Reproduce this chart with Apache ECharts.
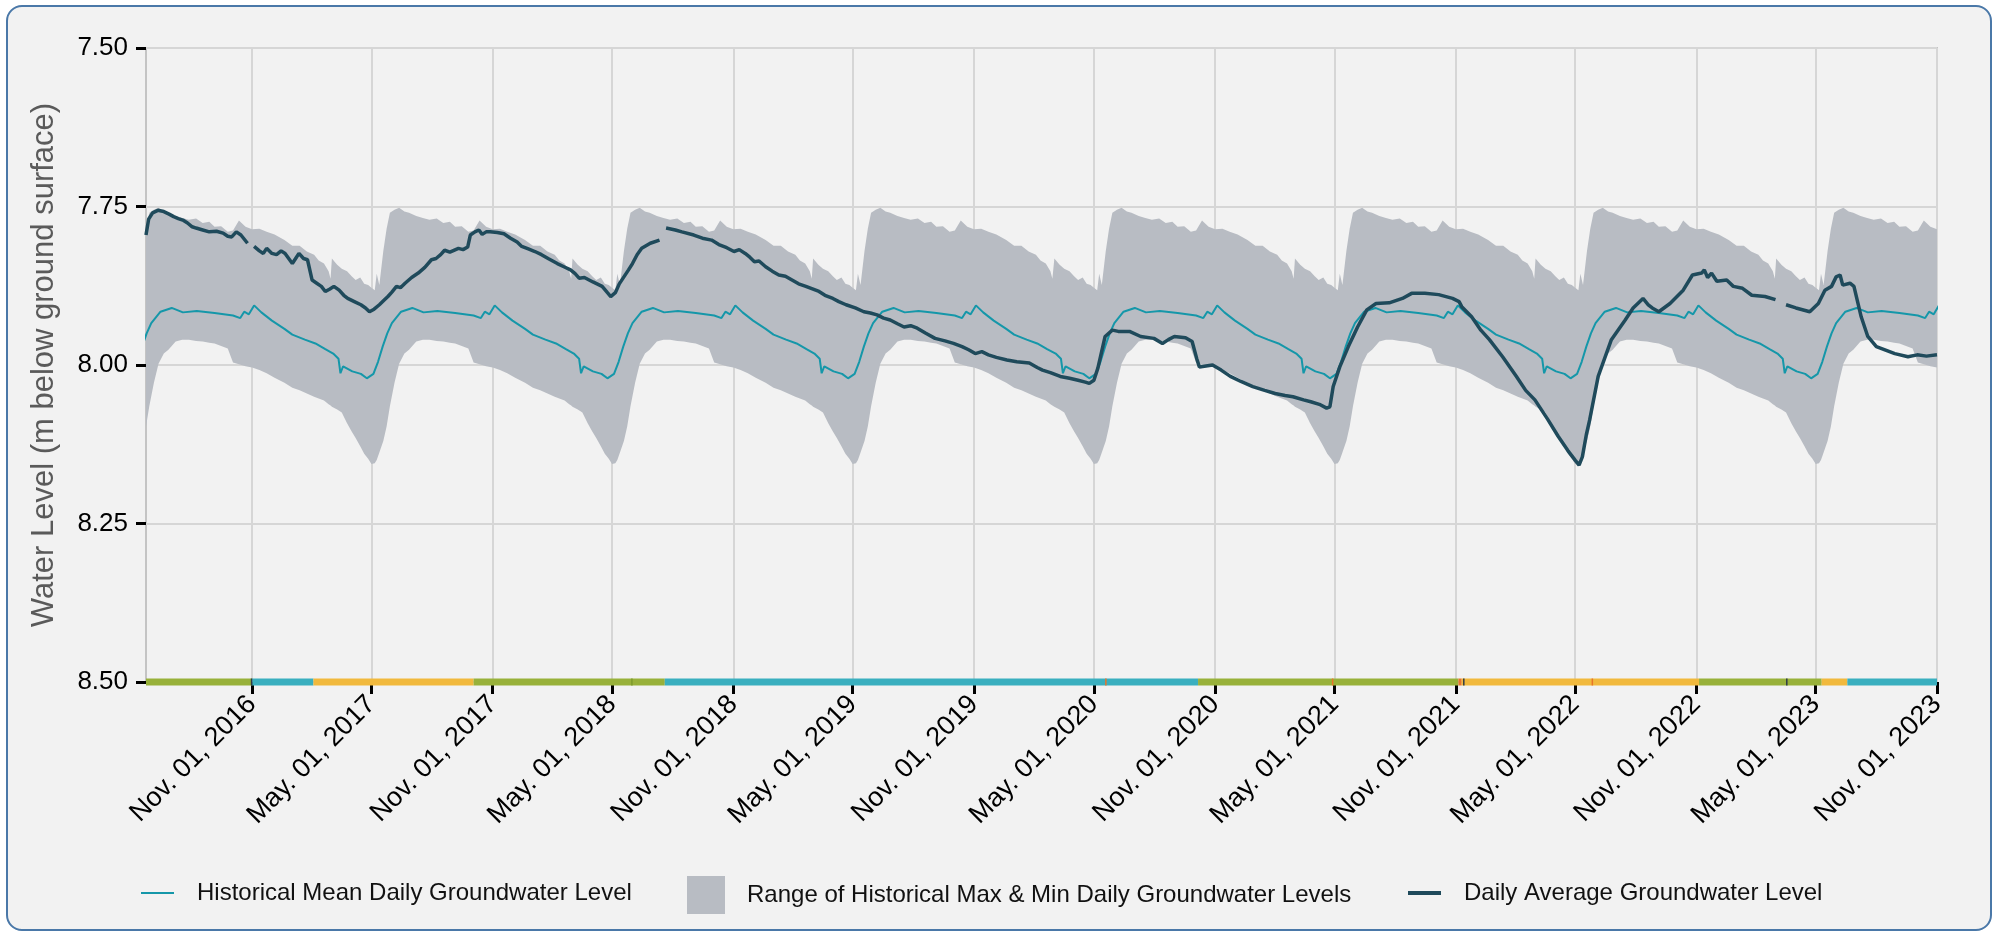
<!DOCTYPE html>
<html>
<head>
<meta charset="utf-8">
<script src="https://cdn.jsdelivr.net/npm/echarts@6/dist/echarts.min.js"></script>
<style>
  html, body { margin: 0; padding: 0; background: #ffffff; }
  #card { position: absolute; left: 6px; top: 5px; width: 1986px; height: 926px; box-sizing: border-box;
          border: 2px solid #4a78a8; border-radius: 16px; background: #f2f2f2; }
  #chart { position: absolute; left: 0; top: 0; width: 1999px; height: 938px; }
</style>
</head>
<body>
<div id="card"></div>
<div id="chart"></div>
<script>
// x range and ticks
const xStart = '2016-05-24';
const xEnd = '2023-11-01';
const tickDates = ['2016-11-01', '2017-05-01', '2017-11-01', '2018-05-01', '2018-11-01', '2019-05-01', '2019-11-01',
  '2020-05-01', '2020-11-01', '2021-05-01', '2021-11-01', '2022-05-01', '2022-11-01', '2023-05-01', '2023-11-01'];
const tickLabels = ['Nov. 01, 2016', 'May. 01, 2017', 'Nov. 01, 2017', 'May. 01, 2018', 'Nov. 01, 2018', 'May. 01, 2019',
  'Nov. 01, 2019', 'May. 01, 2020', 'Nov. 01, 2020', 'May. 01, 2021', 'Nov. 01, 2021', 'May. 01, 2022',
  'Nov. 01, 2022', 'May. 01, 2023', 'Nov. 01, 2023'];
const yMin = 7.5, yMax = 8.5, yStep = 0.25;

// historical mean, by day of year (the same every year)
const meanDays = ['01-01', '01-20', '02-05', '02-20', '03-04', '03-12', '03-15', '03-19', '04-02', '04-15', '04-24',
  '05-04', '05-11', '05-18', '05-25', '06-01', '06-15', '07-02', '07-19', '08-09', '09-05', '10-03', '10-14',
  '10-20', '10-27', '11-04', '11-15', '12-01', '12-20'];
const meanLevels = [7.952, 7.96, 7.966, 7.975, 7.982, 7.99, 8.013, 8.002, 8.01, 8.014, 8.021,
  8.014, 7.995, 7.971, 7.95, 7.934, 7.916, 7.91, 7.917, 7.915, 7.918, 7.922, 7.926,
  7.916, 7.92, 7.906, 7.917, 7.93, 7.943];

// historical max & min, by day of year
const rangeDays = ['01-01', '01-12', '01-23', '02-03', '02-10', '02-18', '02-25', '02-28', '03-02', '03-10', '03-17',
  '03-25', '04-01', '04-07', '04-14', '04-20', '04-26', '05-01', '05-06', '05-09', '05-13', '05-19', '05-24', '05-29',
  '06-05', '06-12', '06-20', '06-27', '07-08', '07-18', '07-28', '08-08', '08-18', '08-28', '09-05', '09-15', '09-25',
  '10-03', '10-12', '10-22', '11-01', '11-12', '11-23', '12-05', '12-20'];
const rangeTop = [7.812, 7.812, 7.821, 7.826, 7.835, 7.84, 7.852, 7.864, 7.832, 7.842, 7.848,
  7.852, 7.86, 7.866, 7.862, 7.872, 7.874, 7.878, 7.882, 7.856, 7.874, 7.82, 7.785, 7.76,
  7.755, 7.752, 7.758, 7.76, 7.765, 7.768, 7.771, 7.769, 7.776, 7.774, 7.782, 7.781, 7.79,
  7.788, 7.772, 7.782, 7.786, 7.785, 7.79, 7.794, 7.803];
const rangeBottom = [8.036, 8.04, 8.045, 8.05, 8.053, 8.056, 8.062, 8.064, 8.066, 8.07, 8.075,
  8.092, 8.105, 8.115, 8.128, 8.14, 8.148, 8.156, 8.155, 8.15, 8.138, 8.12, 8.097, 8.065,
  8.028, 7.998, 7.982, 7.976, 7.963, 7.96, 7.96, 7.962, 7.963, 7.965, 7.966, 7.97, 7.974,
  7.996, 7.999, 8.002, 8.004, 8.008, 8.013, 8.02, 8.028];

// daily average groundwater level (null = no record)
const obsDates = ['2016-05-24', '2016-05-28', '2016-06-03', '2016-06-11', '2016-06-20', '2016-06-28', '2016-07-05',
  '2016-07-12', '2016-07-20', '2016-07-26', '2016-08-02', '2016-08-08', '2016-08-18', '2016-08-28', '2016-09-08',
  '2016-09-18', '2016-09-25', '2016-10-01', '2016-10-08', '2016-10-15', '2016-10-25', '2016-10-28', '2016-11-04',
  '2016-11-12', '2016-11-18', '2016-11-23', '2016-12-01', '2016-12-08', '2016-12-15', '2016-12-21', '2017-01-01',
  '2017-01-06', '2017-01-11', '2017-01-18', '2017-01-24', '2017-01-31', '2017-02-07', '2017-02-14', '2017-02-20',
  '2017-02-27', '2017-03-05', '2017-03-13', '2017-03-20', '2017-03-26', '2017-04-05', '2017-04-15', '2017-04-22',
  '2017-04-28', '2017-05-05', '2017-05-13', '2017-05-20', '2017-05-26', '2017-06-01', '2017-06-08', '2017-06-14',
  '2017-06-21', '2017-07-01', '2017-07-11', '2017-07-21', '2017-07-31', '2017-08-07', '2017-08-14', '2017-08-20',
  '2017-08-28', '2017-09-10', '2017-09-17', '2017-09-24', '2017-09-28', '2017-10-05', '2017-10-11', '2017-10-16',
  '2017-10-22', '2017-10-28', '2017-11-08', '2017-11-18', '2017-11-28', '2017-12-08', '2017-12-15', '2017-12-25',
  '2018-01-04', '2018-01-14', '2018-01-24', '2018-02-07', '2018-02-17', '2018-02-27', '2018-03-06', '2018-03-12',
  '2018-03-20', '2018-04-02', '2018-04-16', '2018-04-24', '2018-04-29', '2018-05-06', '2018-05-12', '2018-05-19',
  '2018-05-26', '2018-06-01', '2018-06-08', '2018-06-15', '2018-06-28', '2018-07-12', '2018-07-16', '2018-07-22',
  '2018-08-05', '2018-08-15', '2018-09-02', '2018-09-15', '2018-09-29', '2018-10-10', '2018-10-22', '2018-11-02',
  '2018-11-10', '2018-11-19', '2018-11-26', '2018-12-03', '2018-12-10', '2018-12-20', '2018-12-30', '2019-01-09',
  '2019-01-19', '2019-01-29', '2019-02-08', '2019-02-19', '2019-03-01', '2019-03-11', '2019-03-20', '2019-04-01',
  '2019-04-10', '2019-04-21', '2019-05-05', '2019-05-18', '2019-05-28', '2019-06-07', '2019-06-17', '2019-06-27',
  '2019-07-08', '2019-07-18', '2019-07-28', '2019-08-07', '2019-08-20', '2019-09-03', '2019-09-18', '2019-10-01',
  '2019-10-14', '2019-10-24', '2019-11-03', '2019-11-13', '2019-11-23', '2019-12-05', '2019-12-21', '2020-01-05',
  '2020-01-24', '2020-02-05', '2020-02-13', '2020-02-25', '2020-03-11', '2020-03-25', '2020-04-07', '2020-04-18',
  '2020-04-24', '2020-05-01', '2020-05-07', '2020-05-11', '2020-05-18', '2020-05-29', '2020-06-07', '2020-06-24',
  '2020-07-11', '2020-07-31', '2020-08-13', '2020-08-22', '2020-08-31', '2020-09-17', '2020-09-27', '2020-10-04',
  '2020-10-08', '2020-10-28', '2020-11-10', '2020-11-24', '2020-12-10', '2020-12-28', '2021-01-15', '2021-01-31',
  '2021-02-15', '2021-02-27', '2021-03-15', '2021-03-26', '2021-04-08', '2021-04-19', '2021-04-24', '2021-04-29',
  '2021-05-09', '2021-05-22', '2021-06-05', '2021-06-19', '2021-07-03', '2021-07-23', '2021-08-12', '2021-08-26',
  '2021-09-15', '2021-10-06', '2021-10-27', '2021-11-06', '2021-11-10', '2021-11-25', '2021-12-09', '2021-12-22',
  '2022-01-11', '2022-02-01', '2022-02-15', '2022-03-01', '2022-03-20', '2022-04-05', '2022-04-20', '2022-05-01',
  '2022-05-07', '2022-05-12', '2022-05-18', '2022-05-23', '2022-06-05', '2022-06-25', '2022-07-16', '2022-07-28',
  '2022-08-12', '2022-08-20', '2022-08-26', '2022-09-05', '2022-09-22', '2022-10-12', '2022-10-26', '2022-11-09',
  '2022-11-13', '2022-11-18', '2022-11-24', '2022-12-02', '2022-12-17', '2022-12-27', '2023-01-10', '2023-01-24',
  '2023-02-13', '2023-03-01', '2023-03-08', '2023-03-17', '2023-04-01', '2023-04-22', '2023-05-05', '2023-05-15',
  '2023-05-25', '2023-06-01', '2023-06-07', '2023-06-11', '2023-06-22', '2023-06-28', '2023-07-09', '2023-07-19',
  '2023-08-01', '2023-08-29', '2023-09-18', '2023-10-02', '2023-10-16', '2023-11-01'];
const obsLevels = [7.795, 7.77, 7.76, 7.756, 7.758, 7.762, 7.766,
  7.769, 7.772, 7.776, 7.782, 7.784, 7.787, 7.79, 7.789,
  7.792, 7.797, 7.798, 7.79, 7.795, 7.808, null, 7.813,
  7.82, 7.824, 7.816, 7.824, 7.826, 7.82, 7.824, 7.84,
  7.832, 7.824, 7.832, 7.834, 7.866, 7.871, 7.876, 7.884,
  7.88, 7.876, 7.882, 7.89, 7.895, 7.9, 7.905, 7.91,
  7.916, 7.912, 7.905, 7.898, 7.892, 7.885, 7.876, 7.878,
  7.871, 7.862, 7.855, 7.846, 7.834, 7.832, 7.826, 7.819,
  7.822, 7.816, 7.818, 7.814, 7.795, 7.79, 7.787, 7.794,
  7.79, 7.79, 7.791, 7.793, 7.8, 7.806, 7.813, 7.817,
  7.821, 7.826, 7.832, 7.84, 7.845, 7.85, 7.856, 7.863,
  7.862, 7.869, 7.876, 7.886, 7.892, 7.886, 7.872, 7.861,
  7.85, 7.84, 7.826, 7.816, 7.808, 7.803, null, 7.784,
  7.787, 7.79, 7.795, 7.8, 7.803, 7.81, 7.815, 7.821,
  7.818, 7.824, 7.83, 7.837, 7.836, 7.845, 7.852, 7.858,
  7.86, 7.866, 7.872, 7.876, 7.88, 7.884, 7.89, 7.895,
  7.9, 7.905, 7.91, 7.916, 7.918, 7.921, 7.926, 7.929,
  7.935, 7.94, 7.938, 7.942, 7.95, 7.958, 7.962, 7.966,
  7.971, 7.976, 7.982, 7.979, 7.984, 7.988, 7.992, 7.995,
  7.997, 8.004, 8.008, 8.012, 8.018, 8.021, 8.024, 8.027,
  8.029, 8.024, 8.005, 7.987, 7.955, 7.945, 7.947, 7.947,
  7.955, 7.958, 7.966, 7.96, 7.955, 7.957, 7.963, 7.99,
  8.003, 8.0, 8.008, 8.018, 8.026, 8.034, 8.04, 8.045,
  8.048, 8.05, 8.055, 8.058, 8.062, 8.068, 8.066, 8.034,
  8.003, 7.971, 7.94, 7.913, 7.903, 7.902, 7.895, 7.887,
  7.887, 7.889, 7.895, 7.9, 7.908, 7.924, 7.945, 7.96,
  7.987, 8.018, 8.04, 8.055, 8.085, 8.112, 8.135, 8.15,
  8.158, 8.145, 8.11, 8.087, 8.018, 7.96, 7.929, 7.91,
  7.895, 7.905, 7.91, 7.916, 7.903, 7.882, 7.858, 7.855,
  7.85, 7.862, 7.855, 7.868, 7.866, 7.876, 7.879, 7.89,
  7.892, 7.897, null, 7.905, 7.91, 7.916, 7.903, 7.882,
  7.876, 7.861, 7.858, 7.874, 7.871, 7.876, 7.924, 7.955,
  7.971, 7.982, 7.987, 7.984, 7.986, 7.984];

// status strip along the bottom of the plot (thin marks come last so they sit on top)
const statusStart = ['2016-05-24', '2016-11-01', '2017-02-02', '2017-10-03', '2018-07-20', '2020-10-06', '2021-11-05',
  '2021-11-10', '2022-11-05', '2023-05-10', '2023-06-18',
  '2016-10-30', '2018-05-30', '2020-05-18', '2021-04-27', '2021-11-12', '2022-05-26', '2023-03-17'];
const statusEnd = ['2016-11-01', '2017-02-02', '2017-10-03', '2018-07-20', '2020-10-06', '2021-11-05', '2021-11-10',
  '2022-11-05', '2023-05-10', '2023-06-18', '2023-11-01',
  '2016-11-01', '2018-06-01', '2020-05-20', '2021-04-29', '2021-11-14', '2022-05-28', '2023-03-19'];
const statusClass = ['green', 'teal', 'yellow', 'green', 'teal', 'green', 'orange',
  'yellow', 'green', 'yellow', 'teal',
  'dark', 'darkgreen', 'orange', 'orange', 'dark', 'orange', 'dark'];
const statusColors = { green: '#98b13a', teal: '#3aafbf', yellow: '#f1b93d', orange: '#e8742a',
  dark: '#2f3b45', darkgreen: '#7d9a2c' };

const FONT = "'Liberation Sans', Arial, sans-serif";
const BAND = '#b8bcc3';
const t = s => echarts.time.parse(s).getTime();
const tickTimes = tickDates.map(t);
const years = [2016, 2017, 2018, 2019, 2020, 2021, 2022, 2023, 2024];

// the historical statistics repeat every year
const meanData = [];
const bandData = [];
years.forEach(y => {
  meanDays.forEach((d, i) => meanData.push([t(y + '-' + d), meanLevels[i]]));
  rangeDays.forEach((d, i) => bandData.push([t(y + '-' + d), rangeTop[i], rangeBottom[i]]));
});
const obsData = obsDates.map((d, i) => [t(d), obsLevels[i]]);
const statusData = statusStart.map((s, i) => [t(s), t(statusEnd[i]), yMax, i]);

// whole band as one polygon: along the top edge, back along the bottom edge
function renderBand(params, api) {
  if (params.dataIndexInside !== 0) return;
  const n = params.dataInsideLength;
  const pts = [];
  for (let j = 0; j < n; j++) pts.push(api.coord([api.value(0, j), api.value(1, j)]));
  for (let j = n - 1; j >= 0; j--) pts.push(api.coord([api.value(0, j), api.value(2, j)]));
  return { type: 'polygon', shape: { points: pts }, style: { fill: BAND } };
}

function renderStatus(params, api) {
  const a = api.coord([api.value(0), api.value(2)]);
  const b = api.coord([api.value(1), api.value(2)]);
  return {
    type: 'rect',
    shape: { x: a[0], y: a[1] - 3.5, width: Math.max(b[0] - a[0], 1.5), height: 7 },
    style: { fill: statusColors[statusClass[api.value(3)]] }
  };
}

const chart = echarts.init(document.getElementById('chart'), null, { renderer: 'canvas' });
chart.setOption({
  animation: false,
  backgroundColor: 'transparent',
  textStyle: { fontFamily: FONT },
  grid: { left: 146, right: 62, top: 48, bottom: 256, show: true, borderColor: '#c4c4c4', borderWidth: 2,
    backgroundColor: 'transparent' },
  legend: [
    { data: [{ name: 'Historical Mean Daily Groundwater Level', icon: 'rect' }], left: 141, top: 881, padding: 0,
      itemWidth: 33, itemHeight: 2, selectedMode: false,
      textStyle: { fontSize: 24, color: '#111', fontFamily: FONT, padding: [0, 0, 0, 18] } },
    { data: [{ name: 'Range of Historical Max & Min Daily Groundwater Levels', icon: 'rect' }], left: 687, top: 876,
      padding: 0, itemWidth: 38, itemHeight: 38, selectedMode: false,
      textStyle: { fontSize: 24, color: '#111', fontFamily: FONT, padding: [0, 0, 0, 17] } },
    { data: [{ name: 'Daily Average Groundwater Level', icon: 'rect' }], left: 1408, top: 881, padding: 0,
      itemWidth: 33, itemHeight: 4, selectedMode: false,
      textStyle: { fontSize: 24, color: '#111', fontFamily: FONT, padding: [0, 0, 0, 18] } }
  ],
  xAxis: {
    type: 'value',
    min: t(xStart),
    max: t(xEnd),
    axisLine: { show: false },
    axisTick: { show: true, customValues: tickTimes, length: 12, lineStyle: { color: '#000', width: 3 } },
    axisLabel: {
      customValues: tickTimes, rotate: 45, margin: 18, fontSize: 27, color: '#000', fontFamily: FONT,
      hideOverlap: false, showMinLabel: true, showMaxLabel: true,
      formatter: v => tickLabels[tickTimes.indexOf(v)] || ''
    },
    splitLine: { show: true, lineStyle: { color: '#d6d6d6', width: 2 } }
  },
  yAxis: {
    type: 'value',
    inverse: true,
    min: yMin,
    max: yMax,
    interval: yStep,
    name: 'Water Level (m below ground surface)',
    nameLocation: 'middle',
    nameGap: 86,
    nameTextStyle: { fontSize: 31, color: '#5a5a5a', fontFamily: FONT },
    axisLine: { show: false },
    axisTick: { show: true, length: 10, lineStyle: { color: '#000', width: 3 } },
    axisLabel: { margin: 18, fontSize: 26, color: '#000', fontFamily: FONT, formatter: v => v.toFixed(2) },
    splitLine: { show: true, lineStyle: { color: '#d6d6d6', width: 2 } }
  },
  series: [
    { name: 'Range of Historical Max & Min Daily Groundwater Levels', type: 'custom', silent: true, clip: true, z: 1,
      data: bandData, encode: { x: 0, y: [1, 2] }, itemStyle: { color: BAND }, renderItem: renderBand },
    { name: 'Historical Mean Daily Groundwater Level', type: 'line', data: meanData, symbol: 'none', silent: true,
      itemStyle: { color: '#1597a9' }, lineStyle: { color: '#1597a9', width: 2 }, z: 3 },
    { name: 'Daily Average Groundwater Level', type: 'line', data: obsData, symbol: 'none', silent: true,
      connectNulls: false, itemStyle: { color: '#1f4a5b' }, lineStyle: { color: '#1f4a5b', width: 3.5 }, z: 4 },
    { type: 'custom', silent: true, clip: false, z: 6, data: statusData, encode: { x: [0, 1], y: 2 },
      renderItem: renderStatus }
  ]
});
</script>
</body>
</html>
